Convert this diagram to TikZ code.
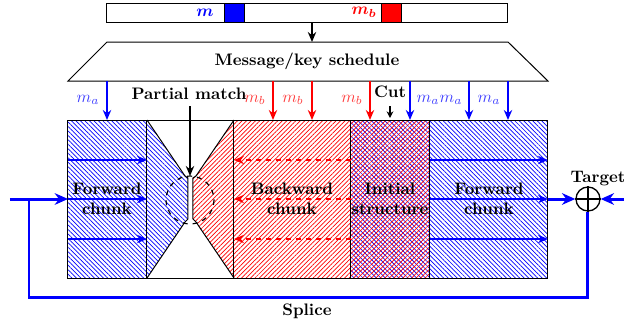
\documentclass[tikz,border=0pt]{standalone}
\usepackage{amsmath,amssymb}
\usetikzlibrary{patterns,patterns.meta,arrows.meta,calc}
\begin{document}
\begin{tikzpicture}[x=0.6pt,y=-0.6pt,
  lbl/.style={font=\bfseries},
  blu/.style={pattern={Lines[angle=-45,distance=1.9pt,line width=0.42pt]},pattern color=blue},
  rdd/.style={pattern={Lines[angle=45,distance=1.9pt,line width=0.42pt]},pattern color=red},
  frame/.style={draw=black,line width=0.6pt},
  inarrow/.style={-{Stealth[length=6pt,width=5pt]},line width=1.2pt},
  bigarrow/.style={-{Stealth[length=8pt,width=7pt]},line width=1.8pt,blue},
  malbl/.style={text=blue!75},
  mblbl/.style={text=red!75}]
\useasboundingbox (0,0) rectangle (624,327);
% top bar
\draw[frame] (107,3) rectangle (508,22);
\fill[blue,draw=black,line width=0.6pt] (225,3) rectangle (245,22);
\fill[red,draw=black,line width=0.6pt] (382,3) rectangle (402,22);
\node (mlab) at (205,12.5) {\textcolor{blue}{$\boldsymbol{m}$}};
\node (mblab) at (364,12.5) {\textcolor{red}{$\boldsymbol{m_b}$}};
\coordinate (barout) at (312,22);
\coordinate (schin) at (312,42);
\draw[-{Stealth[length=6pt,width=5pt]},line width=1pt] (barout) -- (schin);
% schedule
\draw[frame] (107,42) -- (508,42) -- (548,81) -- (68,81) -- cycle;
\node[lbl] (sched) at (307,61) {Message/key schedule};
% chunks
\fill[blu] (68,120) rectangle (147,278);
\fill[blu] (147,120) -- (185,176) -- (188,178) -- (188,219) -- (185,222) -- (147,278) -- cycle;
\fill[rdd] (234,120) -- (196,176) -- (193,178) -- (193,219) -- (196,222) -- (234,278) -- cycle;
\fill[rdd] (234,120) rectangle (351,278);
\fill[blu] (351,120) rectangle (430,278);
\fill[rdd] (351,120) rectangle (430,278);
\fill[blu] (430,120) rectangle (548,278);
\draw[frame] (68,120) rectangle (548,278);
\draw[frame] (147,120) -- (147,278);
\draw[frame] (234,120) -- (234,278);
\draw[frame] (351,120) -- (351,278);
\draw[frame] (430,120) -- (430,278);
\draw[frame] (147,120) -- (185,176) -- (188,178) -- (188,219) -- (185,222) -- (147,278);
\draw[frame] (234,120) -- (196,176) -- (193,178) -- (193,219) -- (196,222) -- (234,278);
\draw[dashed,line width=0.7pt] (190,200) circle [radius=24];
% inner arrows
\foreach \y in {160,199,239}{
  \draw[inarrow,blue] (68,\y) -- (147,\y);
  \draw[inarrow,blue] (430,\y) -- (548,\y);
  \draw[inarrow,red,dashed] (351,\y) -- (234,\y);
}
% key arrows
\foreach \x in {107,410,469,508}{
  \draw[inarrow,blue] (\x,81) -- (\x,120);
}
\foreach \x in {273,312,370}{
  \draw[inarrow,red] (\x,81) -- (\x,120);
}
\node[malbl] (ma1) at (88,100) {$m_a$};
\node[mblbl] (mb1) at (255,100) {$m_b$};
\node[mblbl] (mb2) at (293,100) {$m_b$};
\node[mblbl] (mb3) at (352,100) {$m_b$};
\node[malbl] (ma2) at (428,100) {$m_a$};
\node[malbl] (ma3) at (451,100) {$m_a$};
\node[malbl] (ma4) at (489,100) {$m_a$};
\node[lbl] (cut) at (390,92) {Cut};
\coordinate (cutend) at (390,118);
\draw[-{Stealth[length=4pt,width=4pt]},line width=0.7pt] (390,106) -- (cutend);
\node[lbl] (pm) at (189,94) {Partial match};
\coordinate (pmend) at (190,176);
\draw[-{Stealth[length=6pt,width=5pt]},line width=1pt] (190,106) -- (pmend);
% chunk labels
\node[lbl,align=center] (fw1) at (107,199) {Forward\\chunk};
\node[lbl,align=center] (bw) at (292,199) {Backward\\chunk};
\node[lbl,align=center] (is) at (390,199) {Initial\\structure};
\node[lbl,align=center] (fw2) at (489,199) {Forward\\chunk};
% target
\node[draw,circle,line width=0.8pt,minimum size=14.4pt,inner sep=0pt] (xor) at (588,199) {};
\draw[line width=0.8pt] (xor.north) -- (xor.south) (xor.west) -- (xor.east);
\node[lbl] (tgt) at (598,179) {Target};
\coordinate (tin) at (624,199);
\coordinate (start) at (10,199);
\coordinate (join) at (29,199);
\draw[bigarrow] (548,199) -- (xor.west);
\draw[bigarrow] (tin) -- (xor.east);
\draw[bigarrow] (start) -- (68,199);
\draw[line width=1.8pt,blue] (xor.south) |- (29,297) -- (join);
\node[lbl] (splice) at (307,311) {Splice};
\end{tikzpicture}
\end{document}
